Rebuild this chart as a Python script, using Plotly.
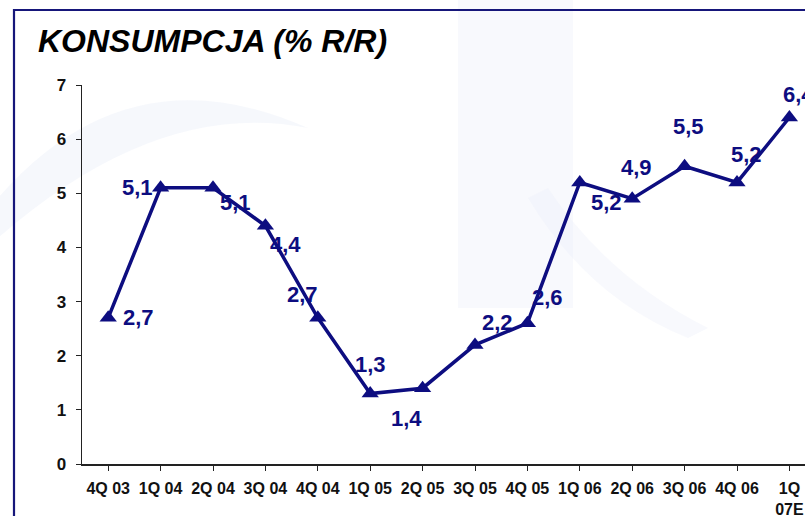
import plotly.graph_objects as go

categories = ["4Q 03", "1Q 04", "2Q 04", "3Q 04", "4Q 04", "1Q 05", "2Q 05",
              "3Q 05", "4Q 05", "1Q 06", "2Q 06", "3Q 06", "4Q 06", "1Q<br>07E"]
values = [2.7, 5.1, 5.1, 4.4, 2.7, 1.3, 1.4, 2.2, 2.6, 5.2, 4.9, 5.5, 5.2, 6.4]
y_ticks = [0, 1, 2, 3, 4, 5, 6, 7]

# label offsets in pixels (dx right, dy down)
label_dx = [30, -23, 22, 20, -15, 0, -16, 22, 20, 27, 4, 4, 9, 9]
label_dy = [0, 0, 15, 19, -23, -29, 30, -22, -26, 20, -31, -40, -28, -23]

NAVY = "#0d0d80"
x_idx = list(range(len(categories)))

W, H = 805, 516
ML, MR, MT, MB = 82, 0, 85, 52
PW, PH = W - ML - MR, H - MT - MB


def px(xp):
    return (xp - ML) / PW


def py(yp):
    return (H - MB - yp) / PH


fig = go.Figure()
fig.add_trace(go.Scatter(
    x=x_idx, y=values, mode="lines+markers",
    line=dict(color=NAVY, width=3.5),
    marker=dict(symbol="triangle-up", size=15, color=NAVY),
    cliponaxis=False, hoverinfo="skip",
))

for i, v in enumerate(values):
    fig.add_annotation(
        x=i, y=v, text=f"{v:.1f}".replace(".", ","), showarrow=False,
        xshift=label_dx[i], yshift=-label_dy[i],
        font=dict(family="Liberation Sans, Arial", size=22, color=NAVY, weight="bold"),
    )

# faint watermark shapes (pixel positions of the page)
wm = "rgba(228,234,246,0.35)"
fig.add_shape(type="path", xref="paper", yref="paper", layer="below",
              path=(f"M {px(-2)} {py(198)} Q {px(128)} {py(48)} {px(308)} {py(128)} "
                    f"Q {px(158)} {py(98)} {px(-2)} {py(238)} Z"),
              fillcolor=wm, line_width=0)
fig.add_shape(type="rect", xref="paper", yref="paper", layer="below",
              x0=px(458), x1=px(573), y0=py(308), y1=py(-2),
              fillcolor="rgba(234,239,248,0.35)", line_width=0)
fig.add_shape(type="path", xref="paper", yref="paper", layer="below",
              path=(f"M {px(528)} {py(198)} Q {px(588)} {py(298)} {px(688)} {py(338)} "
                    f"L {px(708)} {py(328)} Q {px(608)} {py(278)} {px(548)} {py(188)} Z"),
              fillcolor="rgba(234,239,248,0.35)", line_width=0)

# frame
fig.add_shape(type="rect", xref="paper", yref="paper", layer="above",
              x0=px(14), x1=px(900), y0=py(700), y1=py(10),
              line=dict(color="#16167a", width=2.2), fillcolor="rgba(0,0,0,0)")

fig.update_layout(
    width=W, height=H,
    margin=dict(l=ML, r=MR, t=MT, b=MB),
    paper_bgcolor="white", plot_bgcolor="rgba(0,0,0,0)",
    showlegend=False,
    font=dict(family="Liberation Sans, Arial", color="black"),
    title=dict(text="<b><i>KONSUMPCJA (% R/R)</i></b>", x=38 / W, xanchor="left",
               y=1 - 41 / H, yanchor="middle", font=dict(size=32, color="black")),
    xaxis=dict(
        range=[-0.5, -0.5 + PW / 52.4], tickmode="array", tickvals=x_idx, ticktext=categories,
        showgrid=False, zeroline=False, showline=True, linecolor="#222", linewidth=1.5,
        ticks="outside", ticklen=5, tickcolor="#222", tickson="boundaries",
        tickfont=dict(size=16, color="#111", weight="bold"), automargin=False,
        ticklabelstandoff=4,
    ),
    yaxis=dict(
        range=[0, 7], tickvals=y_ticks, showgrid=False, zeroline=False,
        showline=True, linecolor="#222", linewidth=1.5,
        ticks="outside", ticklen=5, tickcolor="#222",
        tickfont=dict(size=17, color="#111", weight="bold"), automargin=False,
        ticklabelstandoff=6,
    ),
)

fig.write_html("out.html", config={"displayModeBar": False, "staticPlot": True},
               post_script="document.body.style.margin='0';document.body.style.overflow='hidden';")
